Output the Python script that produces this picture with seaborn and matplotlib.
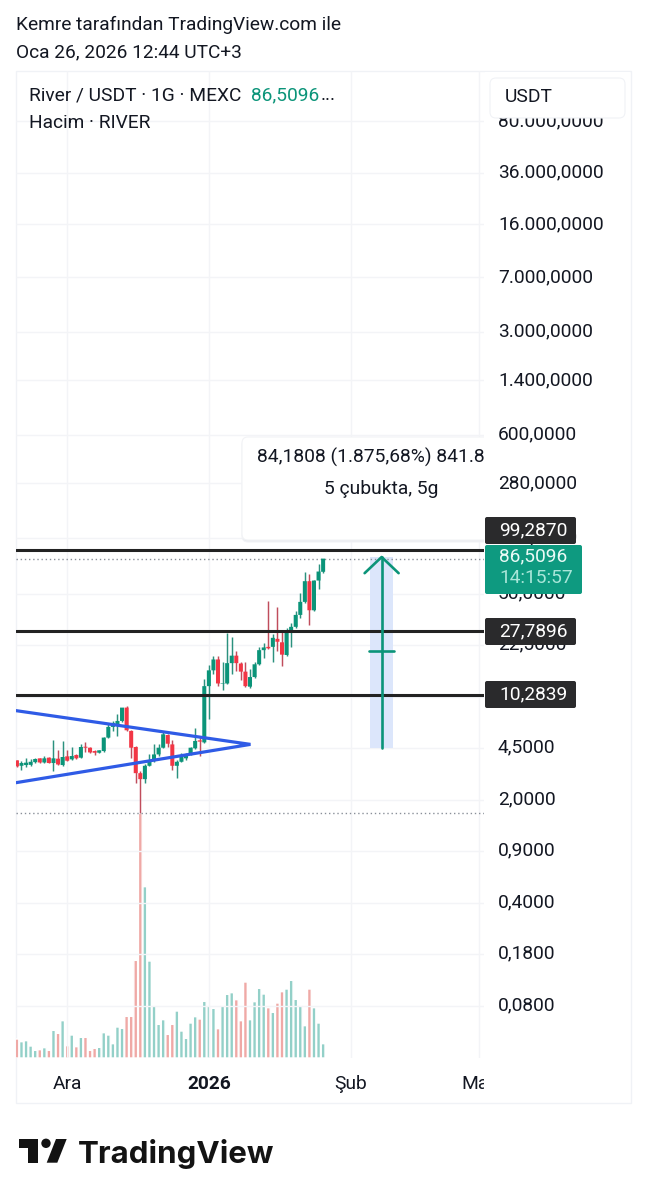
import matplotlib
matplotlib.use('Agg')
import matplotlib.pyplot as plt
import matplotlib.patches as mpatches
from matplotlib.transforms import Bbox, ScaledTranslation
import numpy as np
import pandas as pd
import seaborn as sns

# candle values, USDT, one per day (0 = 1 Aralik)
days = list(range(-11, 57))
opens = [3.70, 3.40, 3.44, 3.45, 3.60, 3.82, 3.58, 3.86, 3.55, 3.80, 3.44, 3.94, 3.76, 4.02, 3.86, 4.58, 4.51, 4.28, 4.17, 4.28,
         5.28, 6.24, 6.37, 6.85, 8.44, 5.86, 4.56, 3.03, 2.76, 3.40, 3.66, 4.06, 4.51, 5.50, 4.75, 3.40, 3.62, 3.82, 4.06, 4.47,
         5.06, 4.90, 11.8, 15.1, 17.9, 12.2, 12.3, 16.9, 19.0, 16.8, 14.8, 11.7, 13.6, 16.6, 20.7, 21.8, 21.8, 24.7, 23.4, 19.2,
         27.7, 29.8, 35.9, 44.0, 60.8, 38.6, 61.4, 70.4]
highs = [3.70, 3.66, 3.84, 3.78, 3.86, 3.86, 3.98, 3.90, 5.11, 4.37, 5.01, 4.33, 4.56, 4.06, 4.75, 4.96, 4.56, 4.33, 4.37, 5.33,
         6.64, 6.85, 7.61, 8.44, 8.71, 5.92, 4.61, 3.13, 3.47, 4.06, 4.75, 4.80, 5.74, 5.56, 5.11, 3.70, 4.15, 4.15, 4.56, 6.17,
         5.44, 13.1, 16.3, 19.0, 19.0, 17.1, 27.0, 25.3, 20.5, 17.2, 17.1, 15.5, 17.1, 21.8, 23.3, 44.4, 26.7, 40.9, 27.7, 29.2,
         31.5, 38.0, 50.4, 70.4, 67.5, 62.1, 79.1, 86.51]
lows = [3.33, 3.19, 3.33, 3.40, 3.57, 3.55, 3.57, 3.53, 3.13, 3.44, 3.37, 3.64, 3.70, 3.78, 3.82, 4.19, 4.15, 4.02, 4.15, 4.23,
        5.22, 5.86, 5.39, 6.78, 5.86, 3.86, 2.60, 1.62, 2.60, 3.37, 3.58, 3.98, 4.47, 4.56, 3.19, 2.82, 3.58, 3.74, 4.02, 4.42,
        3.98, 4.85, 7.07, 14.2, 11.9, 11.1, 12.2, 14.2, 15.0, 12.96, 11.7, 11.5, 13.5, 16.5, 18.2, 21.0, 17.3, 20.5, 16.1, 18.8,
        21.8, 29.4, 34.2, 43.5, 30.6, 38.0, 54.2, 69.5]
closes = [3.37, 3.55, 3.57, 3.62, 3.78, 3.58, 3.82, 3.55, 3.82, 3.47, 3.90, 3.68, 3.96, 3.82, 4.56, 4.51, 4.19, 4.17, 4.33, 5.28,
          6.24, 6.64, 6.85, 8.44, 5.92, 4.51, 3.03, 2.76, 3.40, 3.70, 4.06, 4.51, 5.56, 4.80, 3.40, 3.62, 3.94, 4.06, 4.51, 5.01,
          4.96, 11.8, 15.1, 17.9, 12.3, 12.3, 16.9, 19.0, 16.9, 14.8, 11.8, 13.6, 16.6, 20.7, 21.6, 21.3, 25.1, 23.6, 19.3, 27.7,
          29.8, 35.9, 44.0, 60.8, 38.6, 61.4, 70.7, 86.51]
is_up = [0, 1, 1, 1, 1, 0, 1, 0, 1, 0, 1, 0, 1, 0, 1, 0, 0, 0, 1, 1,
         1, 1, 1, 1, 0, 0, 0, 0, 1, 1, 1, 1, 1, 0, 0, 1, 1, 1, 1, 1,
         0, 1, 1, 1, 0, 1, 1, 1, 0, 0, 0, 1, 1, 1, 1, 0, 1, 0, 0, 1,
         1, 1, 1, 1, 0, 1, 1, 1]
volumes = [57, 49, 52, 36, 23, 25, 31, 23, 83, 74, 112, 37, 69, 34, 62, 62, 23, 29, 32, 76,
           69, 43, 93, 89, 125, 125, 293, 734, 514, 291, 155, 101, 115, 71, 101, 141, 81, 59, 105, 124,
           117, 170, 157, 149, 88, 157, 191, 196, 175, 112, 228, 115, 169, 209, 192, 151, 137, 165, 199, 207,
           233, 176, 157, 97, 207, 151, 105, 43]

price_ticks = [80000, 36000, 16000, 7000, 3000, 1400, 600, 280, 120, 50, 22.5, 10, 4.5, 2, 0.9, 0.4, 0.18, 0.08]
price_labels = ['80.000,0000', '36.000,0000', '16.000,0000', '7.000,0000', '3.000,0000', '1.400,0000', '600,0000',
                '280,0000', '120,0000', '50,0000', '22,5000', '10,0000', '4,5000', '2,0000', '0,9000', '0,4000',
                '0,1800', '0,0800']
month_days = [0, 31, 62, 90]
month_labels = ['Ara', '2026', 'Şub', 'Mar']

levels = [99.287, 27.7896, 10.2839]
last_price = 86.51
low_price = 1.62
tri_x = [-11.25, 40.1, -11.25]
tri_y = [8.05, 4.75, 2.61]
pos_days = [66.3, 71.3]
pos_prices = [4.49, 88.67]
pos_mid = 20.3
pos_head = 68.9

GREEN = '#0b9479'
RED = '#f23645'
GRID = '#f3f4f7'
W, H = 647, 1200
L, R, T, B = 16, 484, 71, 1058
FS = 13.8

plt.rcParams['font.family'] = ['Roboto', 'DejaVu Sans']
sns.set_style('white')
plt.rcParams['font.family'] = ['Roboto', 'DejaVu Sans']


def fx(x):
    return x / W


def fy(y):
    return 1 - y / H


def box(x0, y0, x1, y1, color, ec='none', rad=2.0, z=3):
    p = mpatches.FancyBboxPatch((x0, H - y1), x1 - x0, y1 - y0, boxstyle=f'round,pad=0,rounding_size={rad}',
                                fc=color, ec=ec, lw=0.8, zorder=z, transform=px_tr)
    fig.add_artist(p)


def label(x, y, s, color='#131722', size=FS, **kw):
    fig.text(fx(x), fy(y), s, color=color, fontsize=size, va=kw.pop('va', 'center'), zorder=5, **kw)


def price_at(y):
    return 10 ** (1.4439 + (631.3 - y) / 147.4)


fig = plt.figure(figsize=(W / 100, H / 100), dpi=100, facecolor='white')
px_tr = matplotlib.transforms.Affine2D().scale(1 / W, 1 / H) + fig.transFigure

# outer frame
fig.add_artist(mpatches.Rectangle((L, H - 1103), 631 - L, 1103 - T, fc='none', ec='#f0f2f6', lw=1, transform=px_tr, zorder=-1))

ax = fig.add_axes([fx(L), fy(B), fx(R - L), (B - T) / H])
ax_vol = ax.twinx()
ax.set_zorder(2)
ax_vol.set_zorder(1)
ax.patch.set_visible(False)

# volume
vol_df = pd.DataFrame({'day': days, 'vol': volumes, 'up': is_up})
sns.barplot(data=vol_df, x='day', y='vol', hue='up', palette={1: '#93d0c8', 0: '#efa9a6'}, native_scale=True,
            dodge=False, width=0.7, legend=False, saturation=1, ax=ax_vol)
for p in ax_vol.patches:
    c = p.get_x() + p.get_width() / 2
    p.set_width(0.82)
    p.set_x(c - 0.41)
    p.set_snap(False)
ax_vol.set_ylim(0, (B - T) * 3)
ax_vol.set_xlabel('')
ax_vol.set_ylabel('')
ax_vol.set_yticks([])
for s in ax_vol.spines.values():
    s.set_visible(False)

# candles
ax.set_yscale('log')
cols = [GREEN if u else RED for u in is_up]
wick_cols = ['#2b917e' if u else '#c04d5c' for u in is_up]
ax.vlines(days, lows, highs, colors=wick_cols, lw=1.05, zorder=3)
tops = np.maximum(opens, closes)
bots = np.minimum(opens, closes)
bodies = ax.bar(days, tops - bots, bottom=bots, width=0.88, color=cols, lw=0, zorder=4)
for p in bodies:
    p.set_snap(False)

ax.set_xlim(-11.2, 91.2)
ax.set_ylim(price_at(B), price_at(T))
ax.minorticks_off()
ax.set_yticks(price_ticks, price_labels)
ax.yaxis.set_minor_locator(matplotlib.ticker.NullLocator())
ax.yaxis.tick_right()
ax.tick_params(axis='y', length=0, pad=10, labelsize=FS, labelcolor='#131722')
shift = ScaledTranslation(0, 1.6 / 72, fig.dpi_scale_trans)
for lb in ax.get_yticklabels():
    lb.set_transform(lb.get_transform() + shift)
ax.set_xticks(month_days, month_labels)
ax.tick_params(axis='x', length=0, pad=12, labelsize=FS, labelcolor='#131722')
ax.get_xticklabels()[1].set_fontweight('bold')
mar = ax.get_xticklabels()[3]
mar.set_clip_on(True)
mar.set_clip_box(Bbox([[L, 0], [R, H]]))
ax.grid(True, color=GRID, lw=1, zorder=0)
ax.set_axisbelow(True)
for s in ax.spines.values():
    s.set_visible(False)

# levels and dotted price lines
for lv in levels:
    ax.axhline(lv, color='#222222', lw=2.2, zorder=5)
ax.axhline(last_price, color='#8a9099', lw=1, ls=(0, (1, 2)), zorder=2)
ax.axhline(low_price, color='#8a9099', lw=1, ls=(0, (1, 2)), zorder=2)

# triangle
ax.plot(tri_x, tri_y, color='#2f5be6', lw=2.3, zorder=6, solid_joinstyle='miter')

# long position tool
ax.fill_between(pos_days, pos_prices[0], pos_prices[1], color='#dce6fb', lw=0, zorder=1)
cx = sum(pos_days) / 2
ax.plot([cx, cx], pos_prices, color=GREEN, lw=1.9, zorder=7)
ax.plot([cx - 3.72, cx, cx + 3.72], [pos_head, pos_prices[1], pos_head], color=GREEN, lw=1.9, zorder=7)
ax.plot([cx - 2.77, cx + 2.77], [pos_mid, pos_mid], color=GREEN, lw=1.9, zorder=7)

# tooltip of the position tool, cut off by the price axis
clip = mpatches.Rectangle((L, H - B), R - L, B - T, transform=px_tr)
for off, col in [(2, '#e9ebef'), (0, 'white')]:
    tip = mpatches.FancyBboxPatch((242, H - 540 - off), 300, 103, boxstyle='round,pad=0,rounding_size=6',
                                  fc=col, ec='#f2f3f6', lw=0.8, transform=px_tr, zorder=8)
    ax.add_artist(tip)
    tip.set_transform(px_tr)
    tip.set_clip_path(clip)
t = ax.text(fx(257), fy(457), '84,1808 (1.875,68%) 841.8', transform=fig.transFigure, fontsize=13.9, color='#131722',
            va='center', zorder=9)
t.set_clip_path(clip)
ax.text(fx(381.5), fy(489), '5 çubukta, 5g', transform=fig.transFigure, fontsize=13.9, color='#131722',
        va='center', ha='center', zorder=9)

# price axis tags
for y0, y1, txt in [(517, 544, '99,2870'), (618, 645, '27,7896'), (681, 708, '10,2839')]:
    box(485, y0, 576, y1, '#2a2a2c')
    label(499, (y0 + y1) / 2 - 0.5, txt, color='white')
box(485, 545, 582, 594, '#0e9a80')
label(499, 556, '86,5096', color='#eafaf6')
label(499, 578, '14:15:57', color='#a9e6d9')

# USDT button, the white strip hides the top of the tick label
box(485, 72, 630, 121, 'white', rad=0.1, z=2)
box(490, 78, 625, 118, 'white', ec='#f0f2f6', rad=6)
label(505, 97, 'USDT')

# legend and header text
label(16, 25, 'Kemre tarafından TradingView.com ile')
label(16, 52, 'Oca 26, 2026 12:44 UTC+3')
label(29, 95, 'River / USDT · 1G · MEXC')
label(251, 95, '86,5096', color=GREEN)
label(321, 95, '...')
label(29, 123, 'Hacim · RIVER')

# TradingView logo
logo = '#131313'
fig.add_artist(mpatches.Polygon([(19, H - 1139), (38.3, H - 1139), (38.3, H - 1162.7), (28.3, H - 1162.7),
                                 (28.3, H - 1148.3), (19, H - 1148.3)], fc=logo, lw=0, transform=px_tr))
fig.add_artist(mpatches.Circle((46, H - 1143.3), 4.7, fc=logo, lw=0, transform=px_tr))
fig.add_artist(mpatches.Polygon([(56, H - 1139), (66.7, H - 1139), (57.3, H - 1162.7), (46.7, H - 1162.7)],
                                fc=logo, lw=0, transform=px_tr))
fig.text(fx(78), fy(1162.7), 'TradingView', fontsize=22.5, fontweight='bold', family=['Inter', 'DejaVu Sans'],
         color=logo, va='baseline')

fig.savefig('out.png', dpi=100)
